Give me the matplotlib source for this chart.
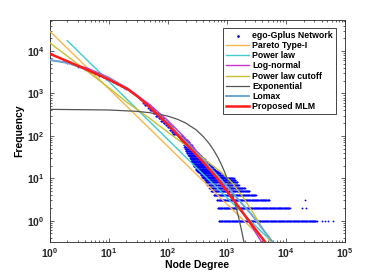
import numpy as np
import matplotlib
matplotlib.use("Agg")
import matplotlib.pyplot as plt
from matplotlib.ticker import LogLocator, FixedLocator, NullFormatter

plt.rcParams['font.family'] = ['Liberation Sans', 'DejaVu Sans']
plt.rcParams['mathtext.fontset'] = 'custom'
plt.rcParams['mathtext.rm'] = 'Liberation Sans'
plt.rcParams['mathtext.bf'] = 'Liberation Sans:bold'

# ---------------- data ----------------
# body of the degree distribution: one frequency per degree
body_deg = [1, 2, 3, 4, 5, 6, 7, 8, 9, 10, 12, 14, 16, 18, 20, 23, 26, 30, 34]
body_freq = [6200, 5200, 4200, 3700, 3240, 2880, 2630, 2400, 2240, 2090, 1860, 1660,
             1510, 1380, 1290, 1120, 1000, 870, 760]

# frequency levels and the degree range in which each level occurs
level_freq = [1, 2, 3, 4, 5, 6, 7, 8, 9, 10, 11, 12, 13, 14, 15, 16, 17, 18, 19, 20,
              22, 24, 26, 28, 30, 33, 36, 40, 45, 50, 55, 60, 70, 80, 90, 100,
              110, 125, 140, 160, 180, 200, 230, 260, 300, 350, 400, 460, 530, 600]
level_dmin = [730, 700, 680, 600, 540, 500, 470, 440, 420, 400, 380, 360, 345, 330, 315,
              305, 298, 290, 283, 276, 266, 258, 250, 245, 238, 230, 222, 212, 202, 196,
              190, 185, 176, 166, 160, 150,
              125, 116, 108, 100, 92, 85, 76, 70, 63, 57, 51, 47, 41, 38]
level_dmax = [33000, 11700, 5200, 3100, 2400, 2000, 1600, 1500, 1400, 1300, 950, 850,
              780, 720, 680, 640, 610, 580, 560, 540, 500, 470, 440, 420, 400, 370,
              350, 330, 300, 280, 265, 255, 232, 212, 192, 176,
              150, 140, 130, 120, 110, 103, 92, 85, 76, 68, 61, 56, 49, 45]

# isolated high-degree points
extra_deg = [40000, 45000, 52000, 63000, 19000, 22000, 21000]
extra_freq = [1, 1, 1, 1, 2, 2, 3]

# fitted model curves
pareto_x = [1, 10000]
pareto_y = [29800, 0.108]

power_x = [2, 10000]
power_y = [17600, 0.15]

lognorm_x = [1, 2, 4.4, 10, 21, 50, 100, 182, 347, 668, 1445, 2512, 3890, 5012]
lognorm_y = [6170, 5380, 3950, 2400, 1320, 541, 231, 100, 36.5, 11.4, 2.63, 0.82, 0.31, 0.17]

cutoff_x = [1, 10, 21, 50, 100, 316, 794, 1259, 1995, 3162, 4467, 5754, 7079]
cutoff_y = [15800, 1380, 603, 257, 123, 38, 14.1, 7.6, 3.2, 1.15, 0.52, 0.28, 0.18]

expo_x = [1, 10, 30, 50, 100, 150, 200, 300, 400, 500, 600, 700, 800, 900, 1000,
          1200, 1400, 1600, 1800, 2000, 2200]
expo_y = [422, 408, 379, 352, 293, 243, 202, 140, 96, 66.5, 46, 31.7, 21.9, 15.1, 10.4,
          5.0, 2.37, 1.13, 0.54, 0.26, 0.12]

lomax_x = [1, 2, 4.4, 10, 21, 50, 100, 182, 347, 668, 1445, 2512, 6026, 7079]
lomax_y = [6170, 5250, 3630, 2290, 1320, 479, 200, 85, 33, 12.3, 3.6, 1.5, 0.31, 0.24]

mlm_x = [1, 2, 4.4, 10, 21, 31.6, 50, 100, 182, 347, 668, 1445, 2512, 4571, 5623]
mlm_y = [8700, 5750, 3580, 2140, 1260, 830, 468, 186, 76, 29.5, 10.5, 2.5, 0.89, 0.30, 0.20]

# ---------------- figure ----------------
fig = plt.figure(figsize=(3.82, 2.73), dpi=100)
ax = fig.add_axes([0.1296, 0.1125, 0.7736, 0.8143])

# build scatter from the tables
sx = list(body_deg)
sy = list(body_freq)
for f, d0, d1 in zip(level_freq, level_dmin, level_dmax):
    n = int(np.log10(d1 / d0) * 110) + 2
    ds = np.unique(np.round(np.geomspace(d0, d1, n)))
    sx.extend(ds.tolist())
    sy.extend([f] * len(ds))
sx.extend(extra_deg)
sy.extend(extra_freq)

ax.scatter(sx, sy, s=1.7, c='#0000ff', marker='o', linewidths=0, zorder=2,
           label='ego-Gplus Network')

ax.plot(pareto_x, pareto_y, color='#f7b64c', lw=1.0, label='Pareto Type-I', zorder=3)
ax.plot(power_x, power_y, color='#3fcccc', lw=1.0, label='Power law', zorder=3)
ax.plot(lognorm_x, lognorm_y, color='#cc33cc', lw=1.0, label='Log-normal', zorder=3)
ax.plot(cutoff_x, cutoff_y, color='#c8c031', lw=1.0, label='Power law cutoff', zorder=3)
ax.plot(expo_x, expo_y, color='#555555', lw=0.9, label='Exponential', zorder=3)
ax.plot(lomax_x, lomax_y, color='#6aa6d6', lw=1.4, label='Lomax', zorder=3)
ax.plot(mlm_x, mlm_y, color='#ff1a1a', lw=1.8, label='Proposed MLM', zorder=4)

ax.set_xscale('log')
ax.set_yscale('log')
ax.set_xlim(1, 1e5)
ax.set_ylim(0.31, 5.4e4)

xt = [1, 10, 100, 1000, 10000, 100000]
yt = [1, 10, 100, 1000, 10000]
ax.xaxis.set_major_locator(FixedLocator(xt))
ax.yaxis.set_major_locator(FixedLocator(yt))
ax.set_xticklabels([r'$\mathbf{10^{%d}}$' % int(np.log10(v)) for v in xt])
ax.set_yticklabels([r'$\mathbf{10^{%d}}$' % int(np.log10(v)) for v in yt])
ax.xaxis.set_minor_locator(LogLocator(base=10, subs=np.arange(2, 10), numticks=20))
ax.yaxis.set_minor_locator(LogLocator(base=10, subs=np.arange(2, 10), numticks=20))
ax.xaxis.set_minor_formatter(NullFormatter())
ax.yaxis.set_minor_formatter(NullFormatter())

ax.tick_params(which='both', direction='in', top=True, right=True,
               colors='#262626', labelsize=7.5, width=0.5)
ax.tick_params(which='major', length=3)
ax.tick_params(which='minor', length=1.6)
ax.tick_params(axis='x', pad=3)
for sp in ax.spines.values():
    sp.set_color('#262626')
    sp.set_linewidth(0.6)

ax.set_xlabel('Node Degree', fontsize=7.5, fontweight='bold', labelpad=0)
ax.set_ylabel('Frequency', fontsize=7.5, fontweight='bold', labelpad=2)

leg = ax.legend(loc='upper right', bbox_to_anchor=(0.969, 0.964),
                prop={'weight': 'bold', 'size': 6.3}, frameon=True, fancybox=False,
                edgecolor='#262626', framealpha=1, borderpad=0.35, labelspacing=0.13,
                handlelength=2.6, handletextpad=0.35, borderaxespad=0,
                markerscale=1.5, scatterpoints=1)
leg.get_frame().set_linewidth(0.6)

fig.savefig('out.png', dpi=100)
